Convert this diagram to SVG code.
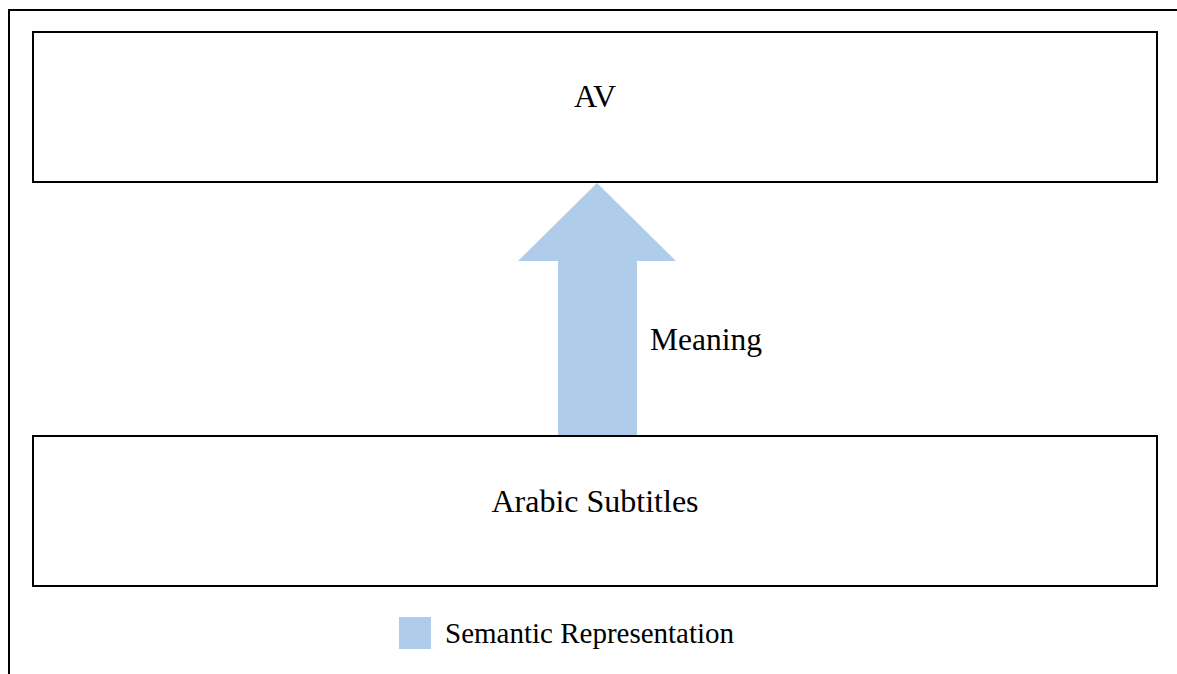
<svg xmlns="http://www.w3.org/2000/svg" width="1177" height="674" viewBox="0 0 1177 674">
  <style>
    .box { fill: #ffffff; stroke: #000000; stroke-width: 2; }
    .frame { fill: none; stroke: #000000; stroke-width: 2; }
    .label { font-family: "Liberation Serif", "Times New Roman", serif; fill: #000000; }
    .sem { fill: #afcdea; }
  </style>
  <rect fill="#ffffff" x="0" y="0" width="1177" height="674"/>
  <!-- outer frame, running off the right and bottom edges -->
  <rect class="frame" x="9" y="10" width="1190" height="690"/>

  <g id="node-av">
    <rect class="box" x="33" y="32" width="1124" height="150"/>
    <text class="label" x="595" y="107" font-size="32" text-anchor="middle">AV</text>
  </g>

  <g id="node-arabic-subtitles">
    <rect class="box" x="33" y="436" width="1124" height="150"/>
    <text class="label" x="595" y="512" font-size="32" text-anchor="middle">Arabic Subtitles</text>
  </g>

  <g id="connectors">
    <!-- block arrow carrying meaning from the subtitles up to the AV -->
    <polygon class="sem" points="597,183 676,261 637,261 637,435 558,435 558,261 518,261"/>
    <text class="label" x="650" y="350" font-size="31.5">Meaning</text>
  </g>

  <g id="legend">
    <rect class="sem" x="399" y="617" width="32" height="32"/>
    <text class="label" x="445" y="643" font-size="29">Semantic Representation</text>
  </g>
</svg>
